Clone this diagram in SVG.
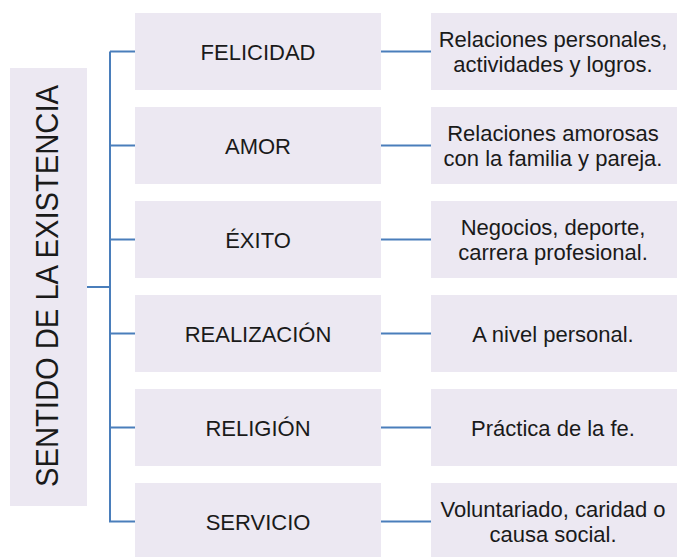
<svg xmlns="http://www.w3.org/2000/svg" width="677" height="557" viewBox="0 0 677 557">
<style>
.box{fill:#ece8f2;}
.t{font-family:"Liberation Sans",Arial,sans-serif;font-size:22px;fill:#1a1a1a;text-anchor:middle;}
.c{stroke:#4a7ebb;stroke-width:2;fill:none;}
</style>
<rect width="677" height="557" fill="#ffffff"/>
<g id="root">
<rect class="box" x="10" y="68" width="77" height="438"/>
<text class="t" font-size="31" transform="translate(58,286) rotate(-90)" x="0" y="0" textLength="402" lengthAdjust="spacingAndGlyphs" style="font-size:31px">SENTIDO DE LA EXISTENCIA</text>
</g>
<g id="connectors">
<path class="c" d="M87,287 H110 M110,51.5 V522.5 M110,51.5 H135 M110,145.5 H135 M110,239.5 H135 M110,333.5 H135 M110,427.5 H135 M110,521.5 H135"/>
<path class="c" d="M381,51.5 H431 M381,145.5 H431 M381,239.5 H431 M381,333.5 H431 M381,427.5 H431 M381,521.5 H431"/>
</g>
<g id="felicidad"><rect class="box" x="135" y="13" width="246" height="77"/><text class="t" x="258" y="59.5">FELICIDAD</text></g>
<g id="amor"><rect class="box" x="135" y="107" width="246" height="77"/><text class="t" x="258" y="153.5">AMOR</text></g>
<g id="exito"><rect class="box" x="135" y="201" width="246" height="77"/><text class="t" x="258" y="247.5">ÉXITO</text></g>
<g id="realizacion"><rect class="box" x="135" y="295" width="246" height="77"/><text class="t" x="258" y="341.5">REALIZACIÓN</text></g>
<g id="religion"><rect class="box" x="135" y="389" width="246" height="77"/><text class="t" x="258" y="435.5">RELIGIÓN</text></g>
<g id="servicio"><rect class="box" x="135" y="483" width="246" height="77"/><text class="t" x="258" y="529.5">SERVICIO</text></g>
<g id="felicidad-desc"><rect class="box" x="431" y="13" width="246" height="77"/><text class="t" x="553" y="47">Relaciones personales,</text><text class="t" x="553" y="72">actividades y logros.</text></g>
<g id="amor-desc"><rect class="box" x="431" y="107" width="246" height="77"/><text class="t" x="553" y="141">Relaciones amorosas</text><text class="t" x="553" y="166">con la familia y pareja.</text></g>
<g id="exito-desc"><rect class="box" x="431" y="201" width="246" height="77"/><text class="t" x="553" y="235">Negocios, deporte,</text><text class="t" x="553" y="260">carrera profesional.</text></g>
<g id="realizacion-desc"><rect class="box" x="431" y="295" width="246" height="77"/><text class="t" x="553" y="341.5">A nivel personal.</text></g>
<g id="religion-desc"><rect class="box" x="431" y="389" width="246" height="77"/><text class="t" x="553" y="435.5">Práctica de la fe.</text></g>
<g id="servicio-desc"><rect class="box" x="431" y="483" width="246" height="77"/><text class="t" x="553" y="517">Voluntariado, caridad o</text><text class="t" x="553" y="542">causa social.</text></g>
</svg>
